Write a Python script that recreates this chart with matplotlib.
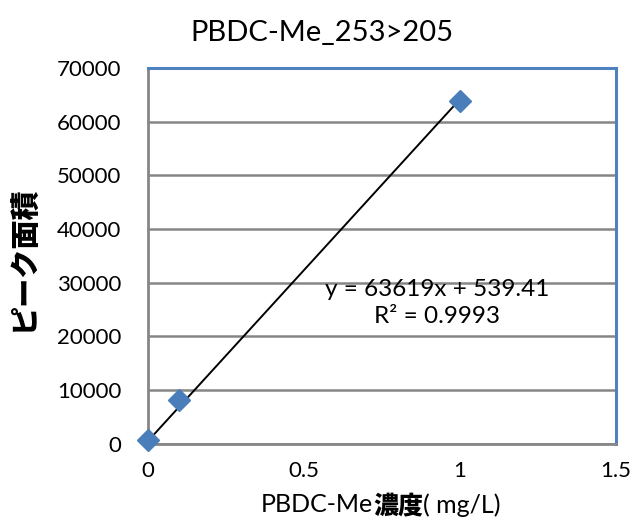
import matplotlib
matplotlib.use('Agg')
import matplotlib.pyplot as plt
import numpy as np

# calibration data
conc = [0.0, 0.1, 1.0]          # mg/L
area = [700, 8100, 63900]       # peak area
slope = 63619
intercept = 539.41
r2 = 0.9993
trend_x = np.array([0.0, 1.0])

title = 'PBDC-Me_253>205'
ylabel = 'ピーク面積'
xlabel_parts = [('PBDC-Me', 'normal'), ('濃度', 'heavy'), ('( mg/L)', 'normal')]

jp = ['Noto Sans CJK JP', 'DejaVu Sans']
latin = ['Lato', 'DejaVu Sans']
thin = ['Lato', 'Noto Sans CJK JP']

fig = plt.figure(figsize=(6.35, 5.26), dpi=100)
ax = fig.add_axes([0.233, 0.156, 0.737, 0.715])

ax.plot(trend_x, slope * trend_x + intercept, color='black', lw=1.4, zorder=3)
ax.plot(conc, area, linestyle='none', marker='D', markersize=11,
        color='#4A7EBB', markeredgecolor='#4A7EBB', zorder=4, clip_on=False)

ax.set_xlim(0, 1.5)
ax.set_ylim(0, 70000)
ax.set_xticks([0, 0.5, 1, 1.5], ['0', '0.5', '1', '1.5'])
ax.set_yticks(np.arange(0, 70001, 10000))
ax.yaxis.set_major_formatter(matplotlib.ticker.FuncFormatter(lambda v, p: f'{int(v)}'))
ax.tick_params(length=0, labelsize=16)
ax.tick_params(axis='y', pad=19)
ax.tick_params(axis='x', pad=12)
for lab in ax.get_xticklabels() + ax.get_yticklabels():
    lab.set_family(latin)

ax.grid(axis='y', color='#868686', lw=1.8, zorder=1)
ax.set_axisbelow(True)
for side in ['left', 'bottom']:
    ax.spines[side].set_color('#868686')
    ax.spines[side].set_linewidth(2)
for side in ['top', 'right']:
    ax.spines[side].set_color('#4F81BD')
    ax.spines[side].set_linewidth(2.2)

ax.text(0.926, 26200, f'y = {slope}x + {intercept}\nR² = {r2}', ha='center', va='center',
        fontsize=17.5, family=latin, linespacing=1.35)

fig.text(0.507, 0.937, title, ha='center', va='center', fontsize=21, family=thin)
fig.text(0.037, 0.509, ylabel, rotation=90, ha='center', va='center', fontsize=21,
         fontweight='heavy', family=jp)

# x label with mixed weights
renderer = fig.canvas.get_renderer()
pieces = []
for txt, w in xlabel_parts:
    fam = jp if w == 'heavy' else thin
    t = fig.text(0, 0.04, txt, ha='left', va='center', fontsize=18, fontweight=w, family=fam)
    pieces.append(t)
widths = [p.get_window_extent(renderer).width for p in pieces]
x0 = 0.5 * fig.bbox.width + 63 - sum(widths) / 2
for p, w in zip(pieces, widths):
    p.set_x(x0 / fig.bbox.width)
    x0 += w

fig.savefig('out.png', dpi=100)
